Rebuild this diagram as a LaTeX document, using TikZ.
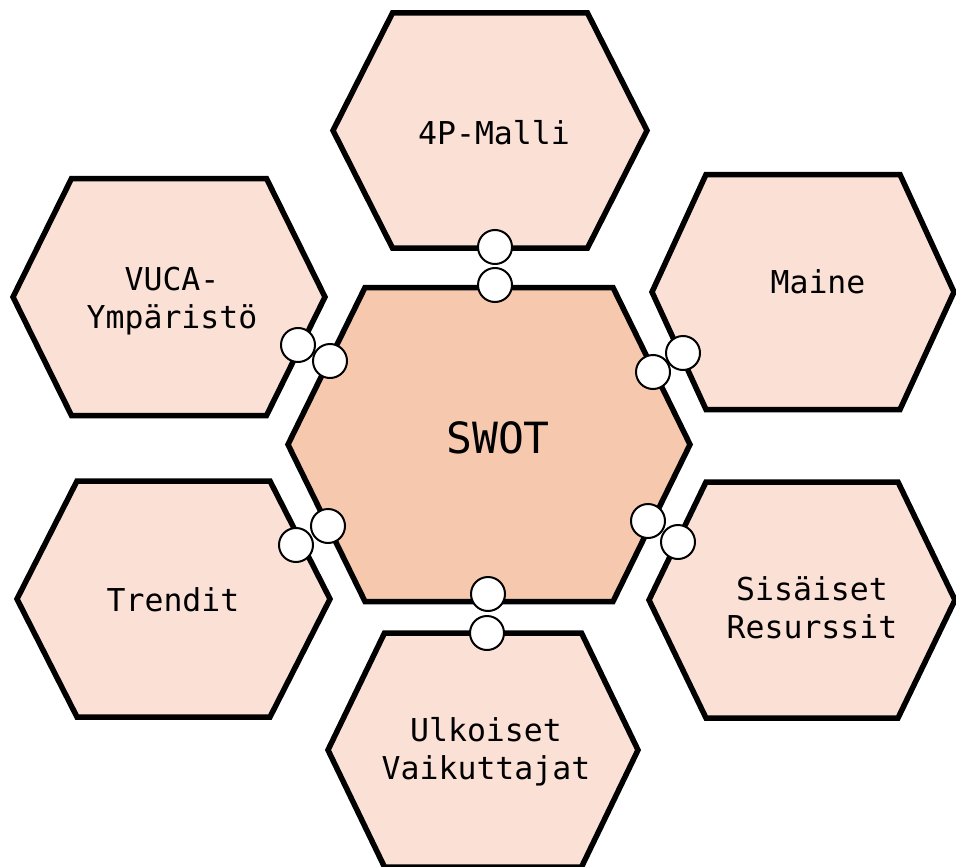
\documentclass[tikz,border=0pt]{standalone}
\usepackage{fontspec}
\setmonofont{DejaVu Sans Mono}
\definecolor{outerfill}{RGB}{251,224,214}
\definecolor{corefill}{RGB}{246,200,174}
\tikzset{
  hexbase/.style={draw=black, line width=5.5pt, line join=miter},
  hexouter/.style={hexbase, fill=outerfill},
  hexcore/.style={hexbase, fill=corefill},
  label/.style={font=\ttfamily\fontsize{31.5}{38}\selectfont, align=center, inner sep=0pt},
  corelabel/.style={font=\ttfamily\fontsize{43}{50}\selectfont, inner sep=0pt},
  port/.style={circle, draw=black, line width=2pt, fill=white, minimum size=34pt, inner sep=0pt}
}
% flat-topped hexagon: #1 style, (#2,#3) centre, #4 half width, #5 half top edge, #6 half height
\newcommand{\drawhex}[6]{%
  \draw[#1] ({#2-#4},#3) -- ({#2-#5},{#3-#6}) -- ({#2+#5},{#3-#6})
    -- ({#2+#4},#3) -- ({#2+#5},{#3+#6}) -- ({#2-#5},{#3+#6}) -- cycle;}
\begin{document}
\begin{tikzpicture}[x=1pt,y=-1pt]
\useasboundingbox (0,0) rectangle (956,867);
\fill[white] (0,0) rectangle (956,867);

% outer ring
\drawhex{hexouter}{490}{130.5}{157}{97.5}{117.5}
\drawhex{hexouter}{803}{292}{151}{97}{117.5}
\drawhex{hexouter}{802}{600}{153}{96}{118}
\drawhex{hexouter}{169}{297}{156}{97.5}{118.5}
\drawhex{hexouter}{173.5}{599}{156.5}{96.5}{118}
\drawhex{hexouter}{483}{750}{155}{98.5}{117}
% centre
\drawhex{hexcore}{489}{444.5}{201}{124}{157}

% labels
\node[label] (malli) at (494,133) {4P-Malli};
\node[label] (maine) at (818,282) {Maine};
\node[label] (resurssit) at (812,608) {Sisäiset\\Resurssit};
\node[label] (vuca) at (172,301) {VUCA-\\Ympäristö};
\node[label] (trendit) at (173,600) {Trendit};
\node[label] (ulkoiset) at (486,752) {Ulkoiset\\Vaikuttajat};
\node[corelabel] (swot) at (498,438) {SWOT};

% paired ports between the centre and each outer cell
\node[port] (pTa) at (495,247) {};
\node[port] (pTb) at (495,285) {};
\node[port] (pULa) at (298,345) {};
\node[port] (pULb) at (330,361) {};
\node[port] (pURa) at (683,353) {};
\node[port] (pURb) at (653,372) {};
\node[port] (pLLa) at (296,545) {};
\node[port] (pLLb) at (328,526) {};
\node[port] (pLRa) at (678,542) {};
\node[port] (pLRb) at (648,521) {};
\node[port] (pBa) at (488,594) {};
\node[port] (pBb) at (487,633) {};
\end{tikzpicture}
\end{document}
